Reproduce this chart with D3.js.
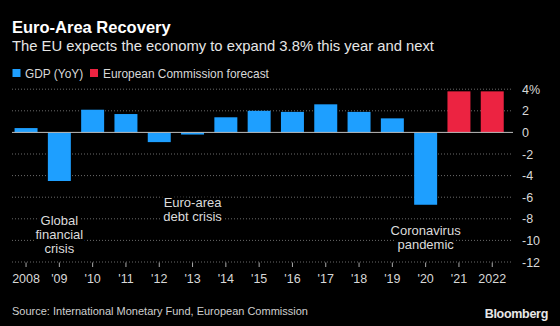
<!DOCTYPE html>
<html><head><meta charset="utf-8">
<script src="https://cdn.jsdelivr.net/npm/d3@7"></script>
<style>
html,body{margin:0;padding:0;background:#000;}
svg{display:block;}
text{font-family:"Liberation Sans","Noto Sans",sans-serif;}
</style></head>
<body>
<script>
const years = ["2008","'09","'10","'11","'12","'13","'14","'15","'16","'17","'18","'19","'20","'21","2022"];
const gdp = [0.4,-4.5,2.1,1.7,-0.9,-0.2,1.4,2.0,1.9,2.6,1.9,1.3,-6.7,null,null];
const forecast = [null,null,null,null,null,null,null,null,null,null,null,null,null,3.8,3.8];
const yTicks = [4,2,0,-2,-4,-6,-8,-10,-12];
const yTickLabels = ["4%","2","0","-2","-4","-6","-8","-10","-12"];
const annotations = [
  {year:"'09", lines:["Global","financial","crisis"], value:-8.6},
  {year:"'13", lines:["Euro-area","debt crisis"], value:-6.9},
  {year:"'20", lines:["Coronavirus","pandemic"], value:-9.5}
];

const W=560,H=326;
const svg=d3.select("body").append("svg").attr("width",W).attr("height",H);
svg.append("rect").attr("width",W).attr("height",H).attr("fill","#000");

const x=d3.scaleBand().domain(years).range([9.4,508.9]).paddingInner(0.31).paddingOuter(0.155);
const y=d3.scaleLinear().domain([-12,4]).range([262,89.2]);

// gridlines
svg.append("g").selectAll("line").data(yTicks.filter(d=>d!==0)).join("line")
  .attr("x1",12).attr("x2",513).attr("y1",d=>y(d)).attr("y2",d=>y(d))
  .attr("stroke","#6a6a6a").attr("stroke-width",1).attr("stroke-dasharray","1,2");

// y labels
svg.append("g").selectAll("text").data(yTicks).join("text")
  .attr("x",522).attr("y",(d)=>y(d)+4.5)
  .attr("fill","#d8d8d8").attr("font-size",12.5)
  .text((d,i)=>yTickLabels[i]);

// bars
const blue="#1e9fff", red="#ec2341";
svg.append("g").selectAll("rect").data(years.map((yr,i)=>({yr,v:gdp[i]})).filter(d=>d.v!=null)).join("rect")
  .attr("x",d=>x(d.yr)).attr("width",x.bandwidth())
  .attr("y",d=>y(Math.max(0,d.v))).attr("height",d=>Math.abs(y(d.v)-y(0)))
  .attr("fill",blue);
svg.append("g").selectAll("rect").data(years.map((yr,i)=>({yr,v:forecast[i]})).filter(d=>d.v!=null)).join("rect")
  .attr("x",d=>x(d.yr)).attr("width",x.bandwidth())
  .attr("y",d=>y(Math.max(0,d.v))).attr("height",d=>Math.abs(y(d.v)-y(0)))
  .attr("fill",red);

// zero line
svg.append("line").attr("x1",12).attr("x2",513).attr("y1",y(0)).attr("y2",y(0))
  .attr("stroke","#bdbdbd").attr("stroke-width",1);

// x ticks
svg.append("g").selectAll("line").data(years).join("line")
  .attr("x1",d=>x(d)+x.bandwidth()/2).attr("x2",d=>x(d)+x.bandwidth()/2)
  .attr("y1",262.5).attr("y2",267).attr("stroke","#aaa").attr("stroke-width",1);
svg.append("g").selectAll("text").data(years).join("text")
  .attr("x",d=>x(d)+x.bandwidth()/2).attr("y",283).attr("text-anchor","middle")
  .attr("fill","#d8d8d8").attr("font-size",12.5).text(d=>d);

// annotations
annotations.forEach(a=>{
  const g=svg.append("g");
  const cx=x(a.year)+x.bandwidth()/2;
  a.lines.forEach((t,i)=>{
    g.append("text").attr("x",cx).attr("y",y(a.value)+i*13.8).attr("text-anchor","middle")
      .attr("fill","#dcdcdc").attr("font-size",13)
      .attr("stroke","#000").attr("stroke-width",5).attr("paint-order","stroke")
      .text(t);
  });
});

// title
svg.append("text").attr("x",12).attr("y",33).attr("fill","#fff").attr("font-size",16.5).attr("font-weight","bold").text("Euro-Area Recovery");
svg.append("text").attr("x",12).attr("y",51).attr("fill","#e6e6e6").attr("font-size",14.8).text("The EU expects the economy to expand 3.8% this year and next");

// legend
svg.append("rect").attr("x",12.5).attr("y",69).attr("width",8).attr("height",8).attr("fill",blue);
svg.append("text").attr("x",25).attr("y",77.5).attr("fill","#d8d8d8").attr("font-size",11.9).text("GDP (YoY)");
svg.append("rect").attr("x",90).attr("y",69).attr("width",8).attr("height",8).attr("fill",red);
svg.append("text").attr("x",103).attr("y",77.5).attr("fill","#d8d8d8").attr("font-size",11.9).text("European Commission forecast");

// footer
svg.append("text").attr("x",12).attr("y",314.5).attr("fill","#cfcfcf").attr("font-size",11).text("Source: International Monetary Fund, European Commission");
svg.append("text").attr("x",548).attr("y",318).attr("text-anchor","end").attr("fill","#e8e8e8").attr("font-size",12.5).attr("font-weight","bold").attr("letter-spacing","-0.3").text("Bloomberg");
</script>
</body></html>
